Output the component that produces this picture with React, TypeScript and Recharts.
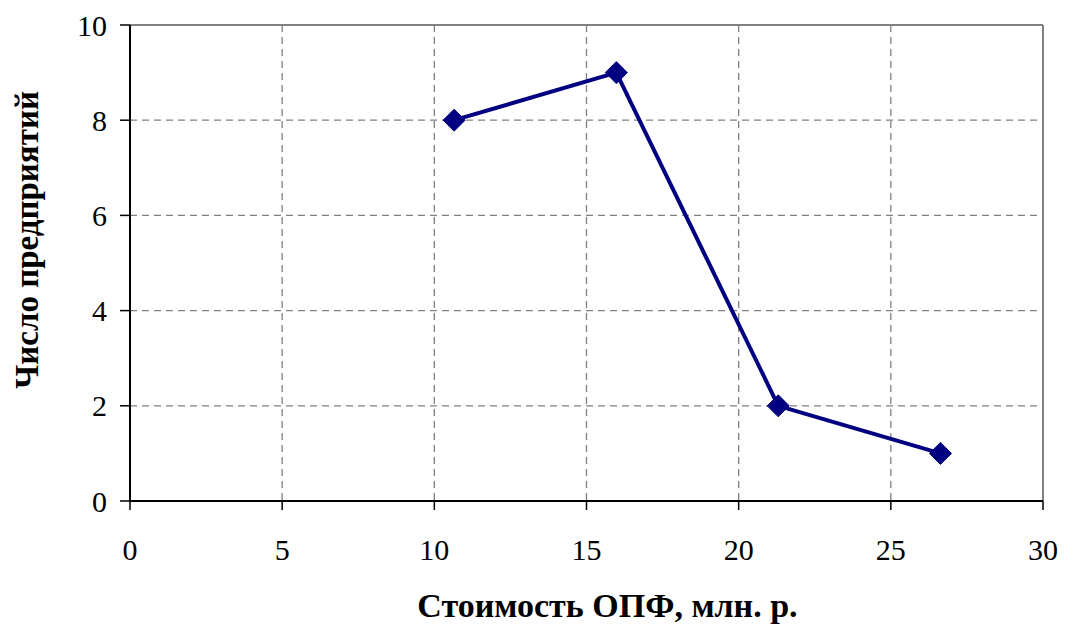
import React from "react";
import {
  ComposedChart,
  Line,
  XAxis,
  YAxis,
  CartesianGrid,
  ReferenceLine,
} from "recharts";

// Cost of fixed assets (interval midpoints, mln rub.) and number of enterprises
const costValues = [10.65, 15.98, 21.3, 26.63];
const enterpriseCounts = [8, 9, 2, 1];
const xTicks = [0, 5, 10, 15, 20, 25, 30];
const yTicks = [0, 2, 4, 6, 8, 10];

const data = costValues.map((x, i) => ({ x, y: enterpriseCounts[i] }));

const FONT = "Liberation Serif";
const TICK_FONT = "'Times New Roman', Tinos, 'Liberation Serif', serif";
const NAVY = "#000080";

const Diamond = (props: any) => {
  const { cx, cy } = props;
  if (cx == null || cy == null) return null;
  const r = 11;
  return (
    <polygon
      key={`d-${cx}-${cy}`}
      points={`${cx},${cy - r} ${cx + r},${cy} ${cx},${cy + r} ${cx - r},${cy}`}
      fill={NAVY}
      stroke={NAVY}
    />
  );
};

const renderXTick = (props: any) => {
  const { x, y, payload, index } = props;
  return (
    <text
      key={`xt-${index}`}
      x={x}
      y={y}
      dy="0.71em"
      textAnchor="middle"
      fill="#000"
      fontFamily={TICK_FONT}
      fontWeight="normal"
      fontSize={30}
    >
      {payload.value}
    </text>
  );
};

const renderYTick = (props: any) => {
  const { x, y, payload, index } = props;
  return (
    <text
      key={`yt-${index}`}
      x={x}
      y={y}
      dy="0.355em"
      textAnchor="end"
      fill="#000"
      fontFamily={TICK_FONT}
      fontWeight="normal"
      fontSize={30}
    >
      {payload.value}
    </text>
  );
};

const XTitle = (props: any) => {
  const vb = props.viewBox || {};
  return (
    <text
      x={vb.x + vb.width / 2 + 21}
      y={617}
      textAnchor="middle"
      fontFamily={FONT}
      fontWeight="bold"
      fontSize={34}
      fill="#000"
    >
      Стоимость ОПФ, млн. р.
    </text>
  );
};

const YTitle = () => {
  return (
    <text
      x={0}
      y={0}
      transform="translate(38, 240) rotate(-90)"
      textAnchor="middle"
      fontFamily={FONT}
      fontWeight="bold"
      fontSize={33}
      fill="#000"
    >
      Число предприятий
    </text>
  );
};

export default function App() {
  return (
    <div
      style={{
        position: "absolute",
        left: 0,
        top: 0,
        background: "#fff",
        fontFamily: FONT,
      }}
    >
      <ComposedChart
        width={1065}
        height={626}
        data={data}
        margin={{ top: 25, right: 22, bottom: 64, left: 0 }}
      >
        <CartesianGrid
          stroke="#808080"
          strokeDasharray="7 5"
          strokeWidth={1.3}
          horizontalValues={[2, 4, 6, 8]}
          verticalValues={[5, 10, 15, 20, 25]}
        />
        <ReferenceLine y={10} stroke="#808080" strokeWidth={2} />
        <ReferenceLine x={30} stroke="#808080" strokeWidth={2} />
        <XAxis
          type="number"
          dataKey="x"
          domain={[0, 30]}
          ticks={xTicks}
          interval={0}
          height={61}
          tickSize={9}
          tickMargin={29}
          axisLine={{ stroke: "#000", strokeWidth: 2 }}
          tickLine={{ stroke: "#000", strokeWidth: 1.5 }}
          tick={renderXTick}
          label={<XTitle />}
        />
        <YAxis
          type="number"
          dataKey="y"
          domain={[0, 10]}
          ticks={yTicks}
          interval={0}
          width={130}
          tickSize={10}
          tickMargin={13}
          axisLine={{ stroke: "#000", strokeWidth: 2 }}
          tickLine={{ stroke: "#000", strokeWidth: 1.5 }}
          tick={renderYTick}
          label={<YTitle />}
        />
        <Line
          type="linear"
          dataKey="y"
          stroke={NAVY}
          strokeWidth={4}
          dot={<Diamond />}
          activeDot={false}
          isAnimationActive={false}
        />
      </ComposedChart>
    </div>
  );
}
